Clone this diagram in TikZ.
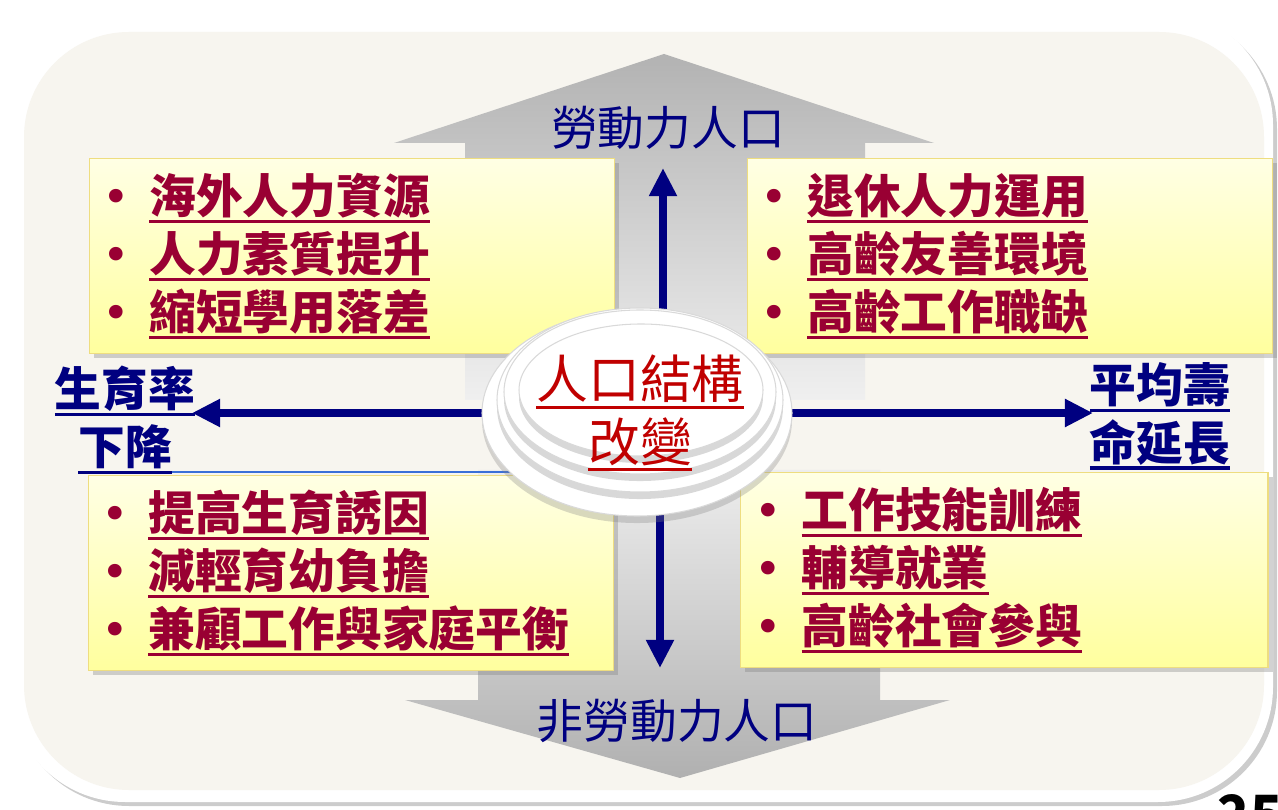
\documentclass[tikz,border=0pt]{standalone}
\usepackage{fontspec}
\setmainfont{Noto Sans CJK TC}
\newfontfamily\dotfont{DejaVu Sans}
\definecolor{pgink}{HTML}{000080}
\definecolor{pgitem}{HTML}{990033}
\definecolor{pgcore}{HTML}{C00000}
\definecolor{pgcream}{HTML}{F7F5EF}
\definecolor{pgboxtop}{HTML}{FFFFE4}
\definecolor{pgboxbot}{HTML}{FFFF9E}
\definecolor{pgboxrim}{HTML}{EEDD80}
\definecolor{pgseam}{HTML}{3A6FD8}
\usetikzlibrary{positioning, arrows.meta, shapes.geometric, shadows}
\pgfdeclarelayer{bg}
\pgfdeclarelayer{links}
\pgfsetlayers{bg,links,main}
\newsavebox{\ulbox}
\newcommand{\ulbar}[1]{\sbox{\ulbox}{#1}\rlap{\usebox{\ulbox}}\raisebox{-0.2em}{\rule{\wd\ulbox}{1.8pt}}}
\newcommand{\bul}{\makebox[0.85em][l]{\hspace{-0.15em}{\dotfont\mdseries •}}}

\begin{document}
\begin{tikzpicture}[x=0.02cm, y=-0.02cm, every node/.style={inner sep=0pt},
    tipbox/.style={draw=pgboxrim, line width=0.8pt, top color=pgboxtop, bottom color=pgboxbot,
      drop shadow={shadow xshift=2.5pt, shadow yshift=-2.5pt, opacity=0.35},
      anchor=north west, minimum height=3.9cm, text width=9.7cm, inner xsep=0.4cm,
      align=left, text=pgitem, font=\fontsize{26.6}{32.9}\selectfont\bfseries},
    sidelabel/.style={align=center, text=pgink, font=\fontsize{26.6}{32.9}\selectfont\bfseries},
    flowlabel/.style={text=pgink, font=\fontsize{26.6}{32.9}\selectfont},
    plate/.style={fill=white, draw=gray!30, line width=0.6pt,
      drop shadow={shadow xshift=0pt, shadow yshift=-4pt, opacity=0.3}},
    navyarrow/.style={draw=pgink, line width=4.5pt, -{Triangle[length=16pt, width=15pt]}}]
  \useasboundingbox (0,0) rectangle (1278,810);

  % yellow boxes
  \node[tipbox, minimum width=10.5cm] (boxtl) at (89,158)
    {\bul\ulbar{海外人力資源}\\\bul\ulbar{人力素質提升}\\\bul\ulbar{縮短學用落差}};
  \node[tipbox, minimum width=10.5cm] (boxtr) at (747,158)
    {\bul\ulbar{退休人力運用}\\\bul\ulbar{高齡友善環境}\\\bul\ulbar{高齡工作職缺}};
  \node[tipbox, minimum width=10.5cm] (boxbl) at (88,475)
    {\bul\ulbar{提高生育誘因}\\\bul\ulbar{減輕育幼負擔}\\\bul\ulbar{兼顧工作與家庭平衡}};
  \node[tipbox, minimum width=10.55cm] (boxbr) at (740,472)
    {\bul\ulbar{工作技能訓練}\\\bul\ulbar{輔導就業}\\\bul\ulbar{高齡社會參與}};

  % centre plates
  \path[plate] (637,413) ellipse [x radius=155, y radius=103];
  \path[plate] (640,400) ellipse [x radius=143, y radius=92];
  \path[plate] (640,392) ellipse [x radius=136, y radius=82];
  \path[plate] (641,390) ellipse [x radius=122, y radius=66];
  \node[align=center, text=pgcore, font=\fontsize{29.5}{35.7}\selectfont] (core) at (640,413)
    {\ulbar{人口結構}\\\ulbar{改變}};

  \node[flowlabel] (labor) at (668,128) {勞動力人口};
  \node[flowlabel] (nonlabor) at (677,721) {非勞動力人口};
  \node[sidelabel] (birth) at (125,420) {\ulbar{生育率}\\\ulbar{下降}};
  \node[sidelabel] (life) at (1160,416) {\ulbar{平均壽}\\\ulbar{命延長}};
  \node[anchor=north, font=\fontsize{30}{30}\selectfont\bfseries] (pagenum) at (1250,794) {25};

  \coordinate (uptip) at (663,168);
  \coordinate (downtip) at (660,668);
  \coordinate (seamL) at (113,472);
  \coordinate (seamR) at (600,472);

  \begin{pgfonlayer}{bg}
    % slide frame
    \fill[gray!40, rounded corners=2.3cm] (14,14) rectangle (1277,806);
    \fill[white, rounded corners=2.3cm] (10,10) rectangle (1273,802);
    \fill[pgcream, rounded corners=2.1cm] (24,32) rectangle (1264,790);
    % grey flow arrows
    \shade[top color=gray!60, bottom color=gray!12]
      (664,54) -- (934,143) -- (865,143) -- (865,400) -- (465,400) -- (465,143) -- (394,143) -- cycle;
    \shade[top color=gray!14, bottom color=gray!62]
      (478,470) -- (880,470) -- (880,700) -- (950,700) -- (680,778) -- (405,700) -- (478,700) -- cycle;
  \end{pgfonlayer}

  \begin{pgfonlayer}{links}
    \draw[pgseam, line width=1.1pt] (seamL) -- (seamR);
    \draw[navyarrow] (core.center) -- ([xshift=-2pt]core.center -| birth.east);
    \draw[navyarrow] (core.center) -- ([xshift=2pt]core.center -| life.west);
    \draw[navyarrow] (uptip |- core.center) -- (uptip);
    \draw[navyarrow] (downtip |- core.center) -- (downtip);
  \end{pgfonlayer}
\end{tikzpicture}
\end{document}
